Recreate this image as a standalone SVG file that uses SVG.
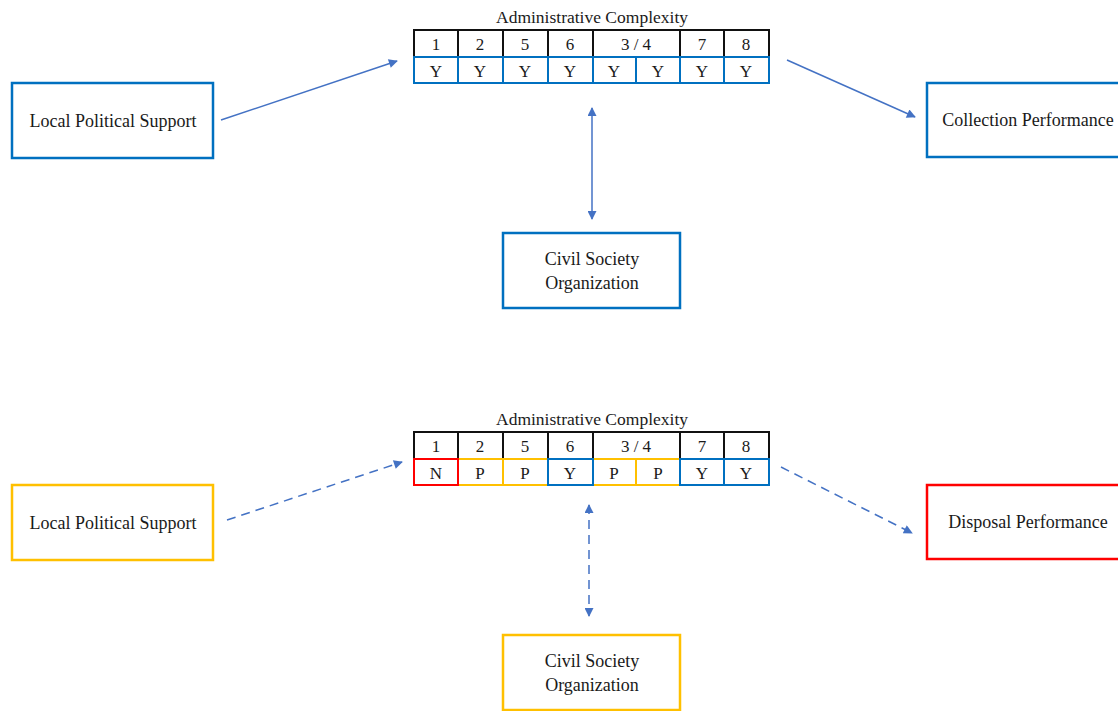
<svg xmlns="http://www.w3.org/2000/svg" width="1118" height="711" viewBox="0 0 1118 711">
<style>
text{font-family:"Liberation Serif","Times New Roman",serif;fill:#1a1a1a;text-anchor:middle}
.lbl{font-size:18px}
.cell{font-size:17px}
.ttl{font-size:17.5px}
.box{fill:#fff;stroke-width:2.5}
.blue{stroke:#0070C0}
.yel{stroke:#FFC000}
.red{stroke:#FF0000}
.blk{stroke:#111}
.c{fill:#fff;stroke-width:2}
.conn{stroke:#4472C4;stroke-width:1.5;fill:none}
.dash{stroke-dasharray:9 6}
</style>
<defs>
<marker id="ah" viewBox="0 0 10 10" refX="9" refY="5" markerWidth="11" markerHeight="9" markerUnits="userSpaceOnUse" orient="auto-start-reverse">
<path d="M0,0 L10,5 L0,10 z" fill="#4472C4"/>
</marker>
</defs>
<rect width="1118" height="711" fill="#fff"/>
<g id="connectors">
<line class="conn" x1="221" y1="120" x2="397" y2="61" marker-end="url(#ah)"/>
<line class="conn" x1="787" y1="60" x2="915" y2="117" marker-end="url(#ah)"/>
<line class="conn" x1="592" y1="108" x2="592" y2="219" marker-start="url(#ah)" marker-end="url(#ah)"/>
<line class="conn dash" x1="227" y1="520" x2="402" y2="462" marker-end="url(#ah)"/>
<line class="conn dash" x1="781" y1="467" x2="912" y2="533" marker-end="url(#ah)"/>
<line class="conn dash" x1="589" y1="505" x2="589" y2="616" marker-start="url(#ah)" marker-end="url(#ah)"/>
</g>
<g id="lps1"><rect class="box blue" x="12" y="83" width="201" height="75"/><text class="lbl" x="113" y="127">Local Political Support</text></g>
<g id="collection"><rect class="box blue" x="927" y="83" width="200" height="74"/><text class="lbl" x="1028" y="126">Collection Performance</text></g>
<g id="cso1"><rect class="box blue" x="503" y="233" width="177" height="75"/><text class="lbl" x="592" y="265">Civil Society</text><text class="lbl" x="592" y="289">Organization</text></g>
<g id="table1">
<text class="ttl" x="592" y="23">Administrative Complexity</text>
<g class="blk">
<rect class="c" x="414" y="30" width="44" height="27"/>
<rect class="c" x="458" y="30" width="45" height="27"/>
<rect class="c" x="503" y="30" width="45" height="27"/>
<rect class="c" x="548" y="30" width="45" height="27"/>
<rect class="c" x="593" y="30" width="87" height="27"/>
<rect class="c" x="680" y="30" width="44" height="27"/>
<rect class="c" x="724" y="30" width="45" height="27"/>
</g>
<g class="blue">
<rect class="c" x="414" y="57" width="44" height="26"/>
<rect class="c" x="458" y="57" width="45" height="26"/>
<rect class="c" x="503" y="57" width="45" height="26"/>
<rect class="c" x="548" y="57" width="45" height="26"/>
<rect class="c" x="593" y="57" width="43" height="26"/>
<rect class="c" x="636" y="57" width="44" height="26"/>
<rect class="c" x="680" y="57" width="44" height="26"/>
<rect class="c" x="724" y="57" width="45" height="26"/>
</g>
<text class="cell" x="436" y="50">1</text><text class="cell" x="480" y="50">2</text><text class="cell" x="525" y="50">5</text><text class="cell" x="570" y="50">6</text><text class="cell" x="636" y="50">3 / 4</text><text class="cell" x="702" y="50">7</text><text class="cell" x="746" y="50">8</text>
<text class="cell" x="436" y="77">Y</text><text class="cell" x="480" y="77">Y</text><text class="cell" x="525" y="77">Y</text><text class="cell" x="570" y="77">Y</text><text class="cell" x="614" y="77">Y</text><text class="cell" x="658" y="77">Y</text><text class="cell" x="702" y="77">Y</text><text class="cell" x="746" y="77">Y</text>
</g>
<g id="lps2"><rect class="box yel" x="12" y="485" width="201" height="75"/><text class="lbl" x="113" y="529">Local Political Support</text></g>
<g id="disposal"><rect class="box red" x="927" y="485" width="200" height="74"/><text class="lbl" x="1028" y="528">Disposal Performance</text></g>
<g id="cso2"><rect class="box yel" x="503" y="635" width="177" height="75"/><text class="lbl" x="592" y="667">Civil Society</text><text class="lbl" x="592" y="691">Organization</text></g>
<g id="table2">
<text class="ttl" x="592" y="425">Administrative Complexity</text>
<g class="blk">
<rect class="c" x="414" y="432" width="44" height="27"/>
<rect class="c" x="458" y="432" width="45" height="27"/>
<rect class="c" x="503" y="432" width="45" height="27"/>
<rect class="c" x="548" y="432" width="45" height="27"/>
<rect class="c" x="593" y="432" width="87" height="27"/>
<rect class="c" x="680" y="432" width="44" height="27"/>
<rect class="c" x="724" y="432" width="45" height="27"/>
</g>
<rect class="c yel" x="458" y="459" width="45" height="26"/>
<rect class="c yel" x="503" y="459" width="45" height="26"/>
<rect class="c yel" x="593" y="459" width="43" height="26"/>
<rect class="c yel" x="636" y="459" width="44" height="26"/>
<rect class="c blue" x="548" y="459" width="45" height="26"/>
<rect class="c blue" x="680" y="459" width="44" height="26"/>
<rect class="c blue" x="724" y="459" width="45" height="26"/>
<rect class="c red" x="414" y="459" width="44" height="26"/>
<text class="cell" x="436" y="452">1</text><text class="cell" x="480" y="452">2</text><text class="cell" x="525" y="452">5</text><text class="cell" x="570" y="452">6</text><text class="cell" x="636" y="452">3 / 4</text><text class="cell" x="702" y="452">7</text><text class="cell" x="746" y="452">8</text>
<text class="cell" x="436" y="479">N</text><text class="cell" x="480" y="479">P</text><text class="cell" x="525" y="479">P</text><text class="cell" x="570" y="479">Y</text><text class="cell" x="614" y="479">P</text><text class="cell" x="658" y="479">P</text><text class="cell" x="702" y="479">Y</text><text class="cell" x="746" y="479">Y</text>
</g>
</svg>
